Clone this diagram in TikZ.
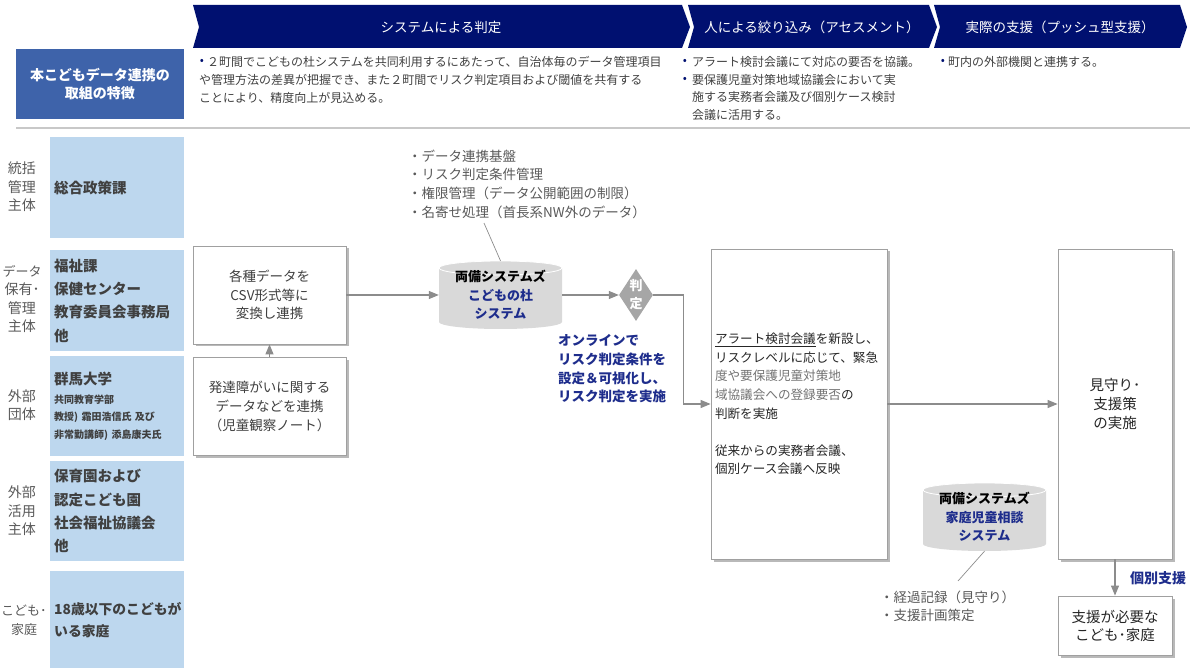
\documentclass[tikz,border=0pt]{standalone}
\usepackage{fontspec}
\setmainfont{Noto Sans CJK JP}
\usetikzlibrary{arrows.meta,shapes.geometric,shadows,calc}
\definecolor{navy}{RGB}{0,16,112}
\definecolor{hdrblue}{RGB}{62,99,170}
\definecolor{lblue}{RGB}{189,215,238}
\definecolor{txt}{RGB}{64,64,64}
\definecolor{dtxt}{RGB}{38,38,38}
\definecolor{midgray}{RGB}{115,115,115}
\definecolor{labgray}{RGB}{89,89,89}
\definecolor{arrgray}{RGB}{140,140,140}
\definecolor{boxgray}{RGB}{160,160,160}
\definecolor{cylgray}{RGB}{217,217,217}
\definecolor{rulegray}{RGB}{200,200,200}
\definecolor{bluetxt}{RGB}{30,45,140}
\definecolor{diagray}{RGB}{166,166,166}
\newcommand{\fsz}[2]{\fontsize{#1}{#2}\selectfont}
\begin{document}
\begin{tikzpicture}[x=1pt,y=-1pt,
  chev/.style={fill=navy},
  chevtext/.style={text=white,font=\fsz{13.5}{16},inner sep=0},
  hdr/.style={text=txt,font=\fsz{12}{17.8},align=left,anchor=west,inner sep=0},
  bul/.style={text=navy,font=\fsz{12}{17.8},inner sep=0},
  rowlab/.style={text=labgray,font=\fsz{14}{18.5},align=center,inner sep=0},
  entity/.style={fill=lblue,text=txt,font=\bfseries\fsz{14.5}{23.2},align=left,text width=126pt,inner xsep=4pt,inner ysep=0,minimum width=134pt,anchor=north west},
  box/.style={draw=boxgray,line width=0.8pt,fill=white,text=txt,align=center,inner sep=2pt,
    drop shadow={shadow xshift=2.5pt,shadow yshift=-2.5pt,fill=black!50,opacity=0.55}},
  arr/.style={draw=arrgray,line width=1.1pt,-{Triangle[length=10pt,width=8pt]}},
  thin/.style={draw=arrgray,line width=0.7pt},
  cylfill/.style={fill=cylgray},
  cyltext/.style={font=\bfseries\fsz{13}{18.5},align=center,inner sep=0,minimum width=123pt,minimum height=68pt},
  note/.style={text=labgray,font=\fsz{13.5}{18.6},align=left,anchor=west,inner sep=0},
  bluelab/.style={text=bluetxt,font=\bfseries\fsz{13.5}{18.6},align=left,anchor=west,inner sep=0}
]
\useasboundingbox (0,0) rectangle (1197,668);

% ---------- header chevrons
\path[chev] (193,5) -- (682,5) -- (690,27) -- (682,48) -- (193,48) -- (199,27) -- cycle;
\path[chev] (688,5) -- (929,5) -- (937,27) -- (929,48) -- (688,48) -- (694,27) -- cycle;
\path[chev] (934,5) -- (1180,5) -- (1187,27) -- (1180,48) -- (934,48) -- (940,27) -- cycle;
\node[chevtext] (c1) at (441,27) {システムによる判定};
\node[chevtext] (c2) at (812,27) {人による絞り込み（アセスメント）};
\node[chevtext] (c3) at (1060,27) {実際の支援（プッシュ型支援）};

% ---------- feature row
\node[fill=hdrblue,text=white,font=\bfseries\fsz{14}{18.5},align=center,minimum width=168pt,minimum height=70pt,inner sep=0] (feat) at (100,84) {本こどもデータ連携の\\取組の特徴};

\node[bul] (bu1) at (202,62) {•};
\node[hdr] (h1) at (199,80) {\hspace{8pt}２町間でこどもの杜システムを共同利用するにあたって、自治体毎のデータ管理項目\\や管理方法の差異が把握でき、また２町間でリスク判定項目および閾値を共有する\\ことにより、精度向上が見込める。};
\node[bul] (bu2) at (685,62) {•};
\node[bul] (bu3) at (685,80) {•};
\node[hdr] (h2) at (692,88.5) {アラート検討会議にて対応の要否を協議。\\要保護児童対策地域協議会において実\\施する実務者会議及び個別ケース検討\\会議に活用する。};
\node[bul] (bu4) at (943,62) {•};
\node[hdr] (h3) at (948,62) {町内の外部機関と連携する。};

\draw[rulegray,line width=1.2pt] (16,128) -- (1190,128);

% ---------- row labels
\node[rowlab] (r1) at (22,187) {統括\\管理\\主体};
\node[rowlab] (r2) at (22,299) {\fsz{13}{19}データ\\保有･\\管理\\主体};
\node[rowlab] (r3) at (22,405) {外部\\団体};
\node[rowlab] (r4) at (22,511) {外部\\活用\\主体};
\node[rowlab,font=\fsz{13}{19}] (r5) at (24,620) {こども･\\家庭};

% ---------- entity boxes
\node[entity,minimum height=101pt] (e1) at (50,137) {総合政策課};
\node[entity,minimum height=101pt] (e2) at (50,250) {福祉課\\保健センター\\教育委員会事務局\\他};
\node[entity,minimum height=100pt,font=\bfseries\fsz{10}{17.5}] (e3) at (50,356) {{\fsz{14.5}{18}群馬大学}\\[1.5pt]共同教育学部\\教授) 霜田浩信氏 及び\\非常勤講師) 添島康夫氏};
\node[entity,minimum height=100pt] (e4) at (50,461) {保育園および\\認定こども園\\社会福祉協議会\\他};
\node[entity,minimum height=97pt,font=\bfseries\fsz{13.8}{22}] (e5) at (50,571) {18歳以下のこどもが\\いる家庭};

% ---------- main flow
\node[box,minimum width=153pt,minimum height=98pt,font=\fsz{13.5}{18.6}] (bA) at (269.5,295) {各種データを\\CSV形式等に\\変換し連携};
\node[box,minimum width=153pt,minimum height=98pt,font=\fsz{13.5}{19}] (bB) at (269.5,406) {発達障がいに関する\\データなどを連携\\（児童観察ノート）};
\draw[arr] (bB.north) -- (bA.north |- bA.south);

% cylinder 1
\path[cylfill] (439,268) -- (439,322) arc[start angle=180,end angle=360,x radius=61.5pt,y radius=7pt] -- (562,268) arc[start angle=0,end angle=180,x radius=61.5pt,y radius=7pt] -- cycle;
\draw[white,line width=0.8pt] (500.5,268) ellipse[x radius=61.5pt,y radius=7pt];
\node[cyltext] (cylA) at (500.5,295) {\color{black}両備システムズ\\\color{bluetxt}こどもの杜\\\color{bluetxt}システム};

\node[note] (n1) at (408,184) {・データ連携基盤\\・リスク判定条件管理\\・権限管理（データ公開範囲の制限）\\・名寄せ処理（首長系NW外のデータ）};
\coordinate (n1p) at (484,223);
\draw[thin] (n1p) -- (cylA.north);

\draw[arr] (bA.east) -- (cylA.west);

\node[diamond,fill=diagray,minimum width=34pt,minimum height=52pt,shape aspect=0.65,inner sep=0,text=white,font=\bfseries\fsz{13}{18},align=center] (dia) at (636,295) {判\\定};
\draw[arr] (cylA.east) -- (dia.west);

\node[bluelab] (onl) at (558,369) {オンラインで\\リスク判定条件を\\設定＆可視化し、\\リスク判定を実施};

\node[box,minimum width=176pt,minimum height=310pt,text width=168pt,inner xsep=4pt,align=left,font=\fsz{12.6}{18.6},text=dtxt] (bC) at (799,404) {\underline{アラート検討会議}を新設し、\\リスクレベルに応じて、緊急\\{\color{midgray}度や要保護児童対策地}\\{\color{midgray}域協議会への登録要否}の\\判断を実施\\[18.6pt]従来からの実務者会議、\\個別ケース会議へ反映};
\draw[arr] (dia.east) -- ++(30,0) |- (bC.west);

\node[box,minimum width=114pt,minimum height=310pt,font=\fsz{14.5}{19},text=dtxt] (bD) at (1115,404) {見守り･\\支援策\\の実施};
\draw[arr] (bC.east) -- (bD.west);

% cylinder 2
\path[cylfill] (923,490) -- (923,544) arc[start angle=180,end angle=360,x radius=61.5pt,y radius=7pt] -- (1046,490) arc[start angle=0,end angle=180,x radius=61.5pt,y radius=7pt] -- cycle;
\draw[white,line width=0.8pt] (984.5,490) ellipse[x radius=61.5pt,y radius=7pt];
\node[cyltext] (cylB) at (984.5,517) {\color{black}両備システムズ\\\color{bluetxt}家庭児童相談\\\color{bluetxt}システム};

\node[note,font=\fsz{13.5}{17.5}] (n2) at (880,606.5) {・経過記録（見守り）\\・支援計画策定};
\coordinate (n2p) at (958,581);
\draw[thin] (cylB.south) -- (n2p);

\node[box,minimum width=114pt,minimum height=59pt,font=\fsz{14.5}{18},text=dtxt] (bE) at (1115,625.5) {支援が必要な\\こども･家庭};
\draw[arr] (bD.south) -- (bE.north);
\node[bluelab,font=\bfseries\fsz{14}{18}] (kobetsu) at (1130,578) {個別支援};

\end{tikzpicture}
\end{document}
